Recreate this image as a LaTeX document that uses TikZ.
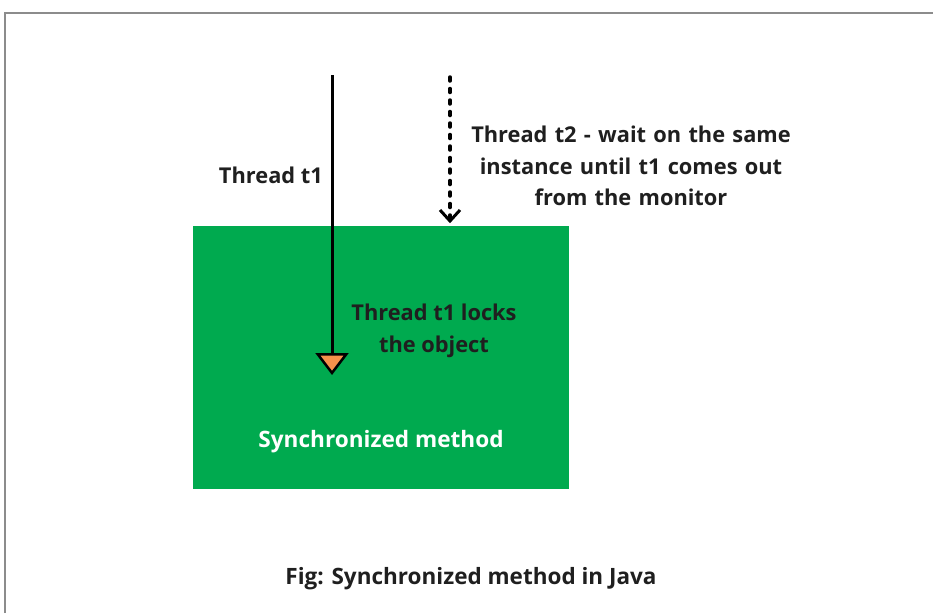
\documentclass[tikz,border=0pt]{standalone}
\usepackage{fontspec}
\setmainfont{Open Sans}
\usetikzlibrary{arrows.meta}
\definecolor{boxgreen}{RGB}{0,170,79}
\definecolor{tiporange}{RGB}{245,145,75}
\definecolor{framegray}{RGB}{140,140,140}
\tikzset{
  lbl/.style={font=\bfseries\fontsize{21.8}{26}\selectfont, text=black!88, inner sep=0pt, align=center},
}
\begin{document}
\begin{tikzpicture}[x=1pt,y=-1pt]
\useasboundingbox (0,0) rectangle (933,613);
% frame
\draw[framegray, line width=1.5pt] (5,613) -- (5,13) -- (933,13);
% green box
\node[fill=boxgreen, minimum width=376pt, minimum height=263pt, inner sep=0pt, anchor=north west] (box) at (193,226) {};
\node[lbl, text=white, font=\bfseries\fontsize{22.6}{27}\selectfont] (sm) at (381,442) {Synchronized method};
% thread t1
\coordinate (t1s) at (332,75);
\coordinate (t1e) at (332,375);
\draw[line width=3pt, -{Triangle[width=33pt,length=22pt,fill=tiporange,line width=2.5pt]}] (t1s) -- (t1e);
\node[lbl, anchor=east] (t1lbl) at (323,175) {Thread t1};
% thread t2
\coordinate (t2s) at (450,77);
\coordinate (t2e) at (450,224);
\draw[line width=3.5pt, line cap=round, dash pattern=on 4pt off 7.5pt, shorten >=6pt] (t2s) -- (t2e);
\draw[line width=3pt] (440,210) -- (450,221) -- (460,210);
\node[lbl, text width=380pt, execute at begin node=\setlength{\baselineskip}{31.5pt}] (t2lbl) at (631,166) {Thread t2 - wait on the same\\instance until t1 comes out\\from the monitor};
\node[lbl, execute at begin node=\setlength{\baselineskip}{31.5pt}] (locks) at (434,331) {Thread t1 locks\\the object};
% caption
\node[lbl, font=\bfseries\fontsize{22.5}{27}\selectfont] (cap) at (471,579) {Fig: Synchronized method in Java};
\end{tikzpicture}
\end{document}
